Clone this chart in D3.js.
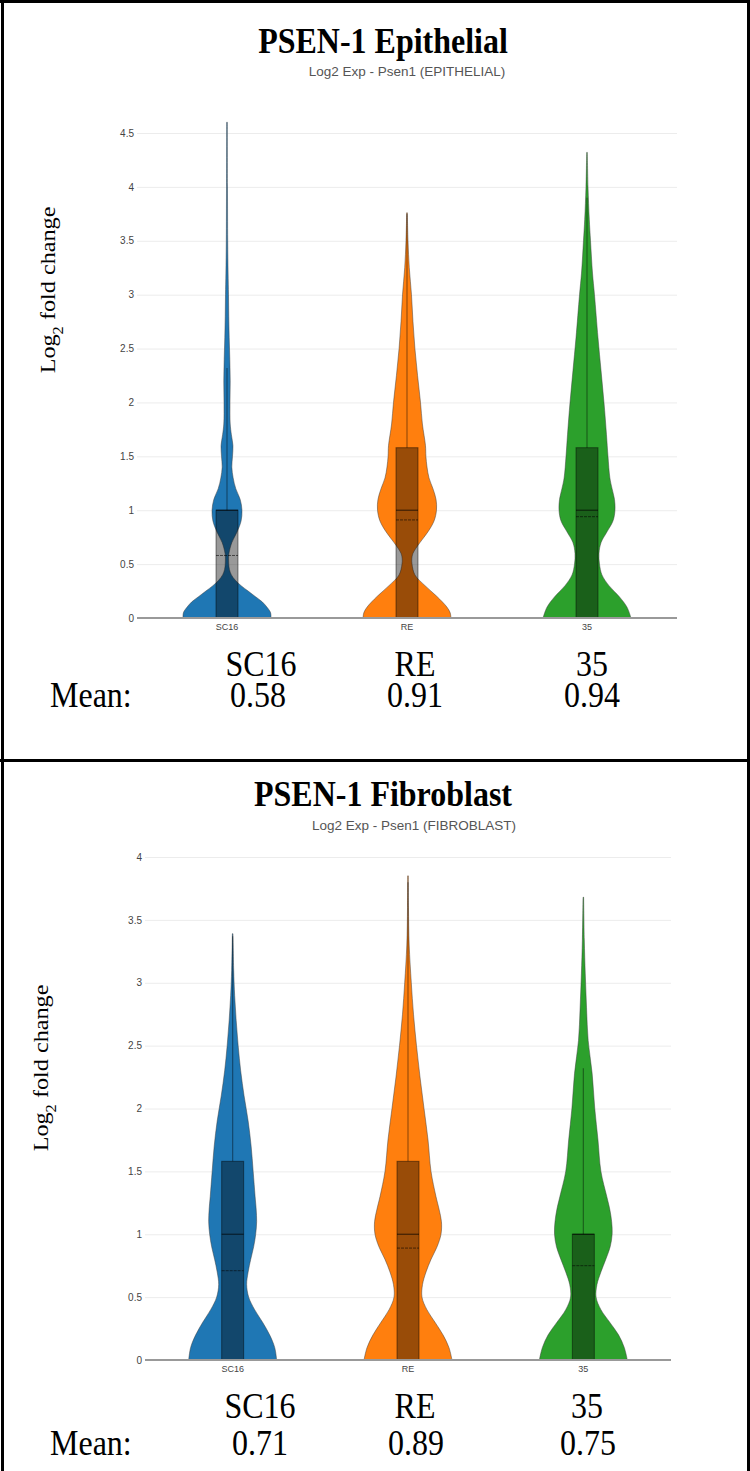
<!DOCTYPE html>
<html>
<head>
<meta charset="utf-8">
<script src="https://cdn.jsdelivr.net/npm/d3@7"></script>
<style>
body{margin:0;background:#fff}
svg{display:block}
</style>
</head>
<body>
<script>

var categories = ["SC16","RE","35"]
var colors = ["#1f77b4","#ff7f0e","#2ca02c"]

var epiTicks = [0,0.5,1,1.5,2,2.5,3,3.5,4,4.5]
var fibTicks = [0,0.5,1,1.5,2,2.5,3,3.5,4]

var epiMeans = [0.58,0.91,0.94]
var fibMeans = [0.71,0.89,0.75]

// box stats per category: [q1, median, q3, upper whisker]
var epiBoxes = [[0,1,1,2.32],[0,1,1.58,3.75],[0,1,1.58,3.9]]
var fibBoxes = [[0,1,1.58,3.37],[0,1,1.58,3.8],[0,1,1,2.32]]

// violin profiles: [log2 value, relative density (% of widest)]
var epiSC16 = [[0,100],[0.05,99],[0.1,91],[0.15,80],[0.2,64],[0.25,48],[0.3,32],[0.35,19],[0.4,10],[0.45,5.5],[0.5,4],[0.55,3.6],[0.6,4.5],[0.7,11],[0.8,23],[0.9,32],[1.0,34],[1.1,30],[1.2,20],[1.3,14],[1.4,11],[1.5,12.5],[1.6,13.5],[1.7,10],[1.8,7.3],[2.0,6.8],[2.2,7.3],[2.4,6.4],[2.6,5],[2.8,4],[3.0,3.4],[3.2,2.5],[3.5,1.6],[4.0,1.1],[4.6,0.7]]
var epiRE = [[0,100],[0.05,98],[0.1,91],[0.2,68],[0.3,41],[0.4,18],[0.5,11.4],[0.55,11],[0.6,13.6],[0.7,29.5],[0.8,47.7],[0.9,61.4],[1.0,67],[1.1,66],[1.2,59],[1.3,50],[1.4,45.5],[1.5,43],[1.6,42],[1.8,35],[2.0,30.7],[2.25,24],[2.5,18],[2.75,13.6],[3.0,10.2],[3.25,5.2],[3.5,2.3],[3.76,0.7]]
var epi35 = [[0,100],[0.1,91],[0.2,73],[0.3,50],[0.4,34],[0.5,28.4],[0.6,27.3],[0.7,32],[0.8,45.5],[0.9,59],[1.0,63.6],[1.1,62.5],[1.2,57],[1.3,52],[1.5,47.7],[1.7,44.3],[2.0,38.6],[2.3,31.8],[2.6,25],[3.0,17],[3.2,12.5],[3.5,8],[3.7,5.2],[4.0,2.3],[4.32,0.7]]

var fibSC16 = [[0,100],[0.1,95.5],[0.2,84],[0.3,68],[0.4,50],[0.5,36.4],[0.6,31.8],[0.7,35.2],[0.8,41],[0.9,47.7],[1.0,52.3],[1.1,54.5],[1.2,53.4],[1.3,51],[1.5,46.6],[1.7,42],[1.9,35.2],[2.1,26],[2.3,18.2],[2.5,12.5],[2.7,8],[2.9,4.5],[3.1,2.3],[3.39,0.7]]
var fibRE = [[0,100],[0.1,93],[0.2,79.5],[0.3,61.4],[0.4,43],[0.5,31.8],[0.6,33],[0.7,41],[0.8,52.3],[0.9,66],[1.0,75],[1.1,76],[1.2,70.5],[1.3,63.6],[1.5,52.3],[1.75,45.5],[2.0,36.4],[2.25,27.3],[2.5,19.3],[2.75,12.5],[3.0,7.5],[3.3,2.7],[3.6,1.1],[3.85,0.7]]
var fib35 = [[0,100],[0.1,93],[0.2,80],[0.3,60],[0.4,40],[0.5,29],[0.6,31],[0.7,40],[0.8,51],[0.9,61],[1.0,65.5],[1.1,64.4],[1.2,60],[1.3,53.3],[1.5,40],[1.75,33.3],[2.0,26],[2.28,20],[2.54,11],[2.8,7.3],[3.07,4.4],[3.34,2.2],[3.68,0.7]]

var WIDTH = 750, HEIGHT = 1471

var svg = d3.select('body').append('svg')
	.attr('width',WIDTH)
	.attr('height',HEIGHT)

var panels = [
	{title:'PSEN-1 Epithelial', subtitle:'Log2 Exp - Psen1 (EPITHELIAL)', ticks:epiTicks, ymax:4.5,
	 means:epiMeans, boxes:epiBoxes, dens:[epiSC16,epiRE,epi35],
	 left:137, right:677, y0:618, ytop:133, titleY:53, subX:407, subY:76,
	 ylab:[47,290], catY:676, meanY:707, catX:[261,415,592], meanX:[258,415,592]},
	{title:'PSEN-1 Fibroblast', subtitle:'Log2 Exp - Psen1 (FIBROBLAST)', ticks:fibTicks, ymax:4,
	 means:fibMeans, boxes:fibBoxes, dens:[fibSC16,fibRE,fib35],
	 left:145, right:671, y0:1360, ytop:857, titleY:806, subX:414, subY:830,
	 ylab:[40,1068], catY:1418, meanY:1455, catX:[260,415,587], meanX:[260,416,588]}
]

var boxHalf = 11
var serif = '"Liberation Serif","Times New Roman",serif'
var sans = '"Liberation Sans",Arial,sans-serif'
var stretch = 1.1

function stretchedText(x,y,txt,size,weight,anchor){
	return svg.append('g')
		.attr('transform','translate('+x+','+y+') scale(1,'+stretch+')')
		.append('text')
		.attr('text-anchor',anchor||'middle')
		.style('font-family',serif)
		.style('font-size',size+'px')
		.style('font-weight',weight||'normal')
		.attr('fill','#000')
		.text(txt)
}

function drawPanel(p){
	var xScale = d3.scaleBand().domain(categories).range([p.left,p.right])
	var yScale = d3.scaleLinear().domain([0,p.ymax]).range([p.y0,p.ytop])
	var wScale = d3.scaleLinear().domain([0,100]).range([0,44])

	// grid + y tick labels
	svg.append('g')
		.attr('transform','translate('+p.left+',0)')
		.call(d3.axisLeft(yScale).tickValues(p.ticks).tickSize(-(p.right-p.left)).tickPadding(3).tickFormat(function(d){return String(d)}))
		.call(function(g){g.select('.domain').remove()})
		.call(function(g){g.selectAll('line').attr('stroke','#ececec')})
		.call(function(g){g.selectAll('text').attr('fill','#444').style('font-family',sans).style('font-size','10px')})

	var groups = svg.append('g').selectAll('g').data(categories).enter().append('g')

	groups.append('path')
		.attr('d',function(c,i){
			var cx = xScale(c)+xScale.bandwidth()/2
			var area = d3.area().curve(d3.curveCatmullRom)
				.y(function(d){return yScale(d[0])})
				.x0(function(d){return cx-wScale(d[1])})
				.x1(function(d){return cx+wScale(d[1])})
			return area(p.dens[i])
		})
		.attr('fill',function(c,i){return colors[i]})
		.attr('stroke','rgba(60,60,60,0.6)')
		.attr('stroke-width',0.8)

	// whisker
	groups.append('line')
		.attr('x1',function(c){return xScale(c)+xScale.bandwidth()/2})
		.attr('x2',function(c){return xScale(c)+xScale.bandwidth()/2})
		.attr('y1',function(c,i){return yScale(p.boxes[i][2])})
		.attr('y2',function(c,i){return yScale(p.boxes[i][3])})
		.attr('stroke','rgba(0,0,0,0.4)')
		.attr('stroke-width',1.2)

	// box
	groups.append('rect')
		.attr('x',function(c){return xScale(c)+xScale.bandwidth()/2-boxHalf})
		.attr('width',boxHalf*2)
		.attr('y',function(c,i){return yScale(p.boxes[i][2])})
		.attr('height',function(c,i){return yScale(p.boxes[i][0])-yScale(p.boxes[i][2])})
		.attr('fill','rgba(0,0,0,0.4)')
		.attr('stroke','rgba(0,0,0,0.45)')
		.attr('stroke-width',1)

	// median
	groups.append('line')
		.attr('x1',function(c){return xScale(c)+xScale.bandwidth()/2-boxHalf})
		.attr('x2',function(c){return xScale(c)+xScale.bandwidth()/2+boxHalf})
		.attr('y1',function(c,i){return yScale(p.boxes[i][1])})
		.attr('y2',function(c,i){return yScale(p.boxes[i][1])})
		.attr('stroke','rgba(0,0,0,0.6)')
		.attr('stroke-width',1.2)

	// mean
	groups.append('line')
		.attr('x1',function(c){return xScale(c)+xScale.bandwidth()/2-boxHalf})
		.attr('x2',function(c){return xScale(c)+xScale.bandwidth()/2+boxHalf})
		.attr('y1',function(c,i){return yScale(p.means[i])})
		.attr('y2',function(c,i){return yScale(p.means[i])})
		.attr('stroke','rgba(0,0,0,0.55)')
		.attr('stroke-width',1)
		.attr('stroke-dasharray','3,1')

	// zero line
	svg.append('line')
		.attr('x1',p.left).attr('x2',p.right)
		.attr('y1',yScale(0)).attr('y2',yScale(0))
		.attr('stroke','#999').attr('stroke-width',2)

	// x tick labels
	svg.append('g')
		.attr('transform','translate(0,'+(p.y0+1)+')')
		.call(d3.axisBottom(xScale).tickSize(0).tickPadding(5))
		.call(function(g){g.select('.domain').remove()})
		.call(function(g){g.selectAll('text').attr('fill','#444').style('font-family',sans).style('font-size','9px')})

	// titles
	stretchedText(383,p.titleY,p.title,32,'bold')
	svg.append('text')
		.attr('x',p.subX).attr('y',p.subY)
		.attr('text-anchor','middle')
		.style('font-family',sans).style('font-size','13.5px')
		.attr('fill','#555')
		.text(p.subtitle)

	// y label
	var yl = svg.append('g')
		.attr('transform','translate('+p.ylab[0]+','+p.ylab[1]+') scale(1,'+stretch+') rotate(-90)')
		.append('text')
		.attr('text-anchor','middle')
		.attr('dy','0.35em')
		.style('font-family',serif).style('font-size','22px')
	yl.append('tspan').text('Log')
	yl.append('tspan').attr('baseline-shift','sub').style('font-size','15px').text('2')
	yl.append('tspan').text(' fold change')

	// table under the chart: one text per column, name over mean
	var g = svg.append('g')
		.attr('transform','translate(0,'+p.catY+') scale(1,'+stretch+')')
	var dy = (p.meanY-p.catY)/stretch
	categories.forEach(function(c,i){
		var t = g.append('text')
			.attr('text-anchor','middle')
			.style('font-family',serif).style('font-size','32px')
		t.append('tspan').attr('x',p.catX[i]).attr('y',0).text(c)
		t.append('tspan').attr('x',p.meanX[i]).attr('y',dy).text(p.means[i].toFixed(2))
	})
	stretchedText(50,p.meanY,'Mean:',32,'normal','start')
}

panels.forEach(drawPanel)

// frame
svg.append('line').attr('x1',2.5).attr('x2',2.5).attr('y1',0).attr('y2',HEIGHT).attr('stroke','#000').attr('stroke-width',3)
svg.append('line').attr('x1',748.5).attr('x2',748.5).attr('y1',0).attr('y2',HEIGHT).attr('stroke','#000').attr('stroke-width',3)
svg.append('line').attr('x1',0).attr('x2',WIDTH).attr('y1',1.5).attr('y2',1.5).attr('stroke','#000').attr('stroke-width',3)
svg.append('line').attr('x1',0).attr('x2',WIDTH).attr('y1',760.5).attr('y2',760.5).attr('stroke','#000').attr('stroke-width',3)

</script>
</body>
</html>
